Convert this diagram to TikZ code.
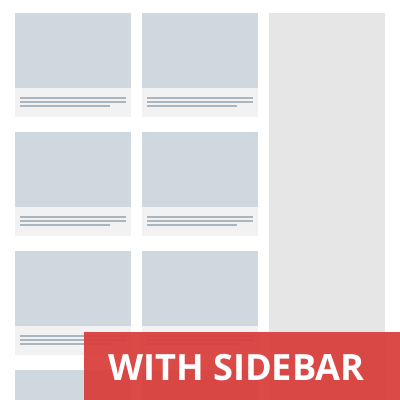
\documentclass[tikz,border=0pt]{standalone}
\usepackage{fontspec}
\newfontfamily\bannerfont{Open Sans}
\usepackage{xcolor}
\usepackage{tikz}
\definecolor{thumbgray}{HTML}{CFD8DE}
\definecolor{capgray}{HTML}{F2F2F2}
\definecolor{linegray}{HTML}{A9B6BF}
\definecolor{sidegray}{HTML}{E6E6E6}
\definecolor{bannerred}{HTML}{DA3B39}

\begin{document}
\begin{tikzpicture}[x=1pt, y=-1pt]
    \useasboundingbox[fill=white] (0, 0) rectangle (400, 400);

    % Post cards, two columns and four rows
    \foreach \cx in {15, 142} {
        \foreach \cy in {13, 132, 251, 370} {
            \fill[thumbgray] (\cx, \cy) rectangle ++(116, 75);
            \fill[capgray] (\cx, \cy+75) rectangle ++(116, 29);
            \draw[linegray, line width=1.7pt] (\cx+5, \cy+84.7) -- ++(106, 0);
            \draw[linegray, line width=1.7pt] (\cx+5, \cy+88.7) -- ++(106, 0);
            \draw[linegray, line width=1.7pt] (\cx+5, \cy+92.7) -- ++(90, 0);
        }
    }

    % Sidebar
    \fill[sidegray] (269, 13) rectangle (385, 400);

    % Banner
    \fill[bannerred, opacity=0.92] (84, 332) rectangle (400, 400);
    \node[text=white, font=\bannerfont\bfseries\fontsize{36.2}{40}\selectfont, anchor=base]
        (banner) at (236.5, 380) {WITH SIDEBAR};
\end{tikzpicture}
\end{document}
